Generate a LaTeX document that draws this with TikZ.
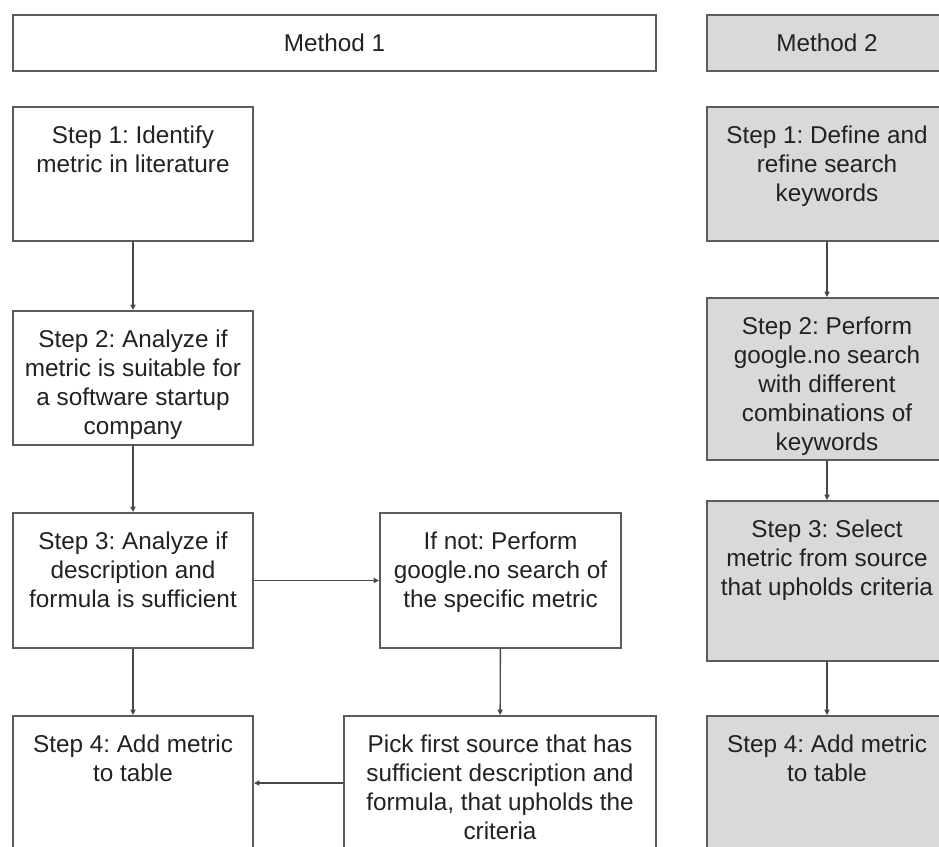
\documentclass[tikz,border=0pt]{standalone}
\usepackage{fontspec}
\setmainfont{Liberation Sans}
\usetikzlibrary{arrows.meta}

\definecolor{boxline}{HTML}{5C5C5C}
\definecolor{boxgray}{HTML}{D9D9D9}
\definecolor{flowline}{HTML}{484848}
\definecolor{boxtext}{HTML}{222222}

\frenchspacing

\begin{document}
\begin{tikzpicture}[x=1pt, y=-1pt,
    stepbox/.style={rectangle, draw=boxline, line width=1.8pt, fill=white,
      minimum width=240pt, inner sep=0pt, text=boxtext,
      font=\fontsize{24.3}{29}\selectfont},
    graybox/.style={stepbox, fill=boxgray},
    steptext/.style={anchor=north, inner sep=0pt, align=center, text=boxtext,
      font=\fontsize{24.3}{29}\selectfont},
    flow/.style={draw=flowline, line width=1.4pt,
      -{Triangle[length=5.5pt, width=5pt]}}
  ]

    % Page frame (reference proportions)
    \useasboundingbox (0,0) rectangle (939,846);
    \clip (0,0) rectangle (939,846);

    % --- Header boxes ---
    \node[stepbox, minimum width=643pt, minimum height=56pt] (m1) at (334.5,43) {Method 1};
    \node[graybox, minimum height=56pt] (m2) at (827,43) {Method 2};

    % --- Method 1: main column ---
    \node[stepbox, minimum height=134pt] (l1) at (133,174) {};
    \node[steptext] at ([yshift=-20pt]l1.north) {Step 1: Identify\\metric in literature};

    \node[stepbox, minimum height=134pt] (l2) at (133,378) {};
    \node[steptext] at ([yshift=-20pt]l2.north) {Step 2: Analyze if\\metric is suitable for\\a software startup\\company};

    \node[stepbox, minimum height=135pt] (l3) at (133,580.5) {};
    \node[steptext] at ([yshift=-20pt]l3.north) {Step 3: Analyze if\\description and\\formula is sufficient};

    \node[stepbox, minimum height=134pt] (l4) at (133,783) {};
    \node[steptext] at ([yshift=-20pt]l4.north) {Step 4: Add metric\\to table};

    % --- Method 1: side branch ---
    \node[stepbox, minimum width=241pt, minimum height=135pt] (ifnot) at (500.5,580.5) {};
    \node[steptext] at ([yshift=-20pt]ifnot.north) {If not: Perform\\google.no search of\\the specific metric};

    \node[stepbox, minimum width=312pt, minimum height=134pt] (pick) at (500,783) {};
    \node[steptext] at ([yshift=-20pt]pick.north) {Pick first source that has\\sufficient description and\\formula, that upholds the\\criteria};

    % --- Method 2 column (gray) ---
    \node[graybox, minimum height=134pt] (r1) at (827,174) {};
    \node[steptext] at ([yshift=-20pt]r1.north) {Step 1: Define and\\refine search\\keywords};

    \node[graybox, minimum height=162pt] (r2) at (827,379) {};
    \node[steptext] at ([yshift=-20pt]r2.north) {Step 2: Perform\\google.no search\\with different\\combinations of\\keywords};

    \node[graybox, minimum height=160pt] (r3) at (827,581) {};
    \node[steptext] at ([yshift=-20pt]r3.north) {Step 3: Select\\metric from source\\that upholds criteria};

    \node[graybox, minimum height=134pt] (r4) at (827,783) {};
    \node[steptext] at ([yshift=-20pt]r4.north) {Step 4: Add metric\\to table};

    % --- Connectors ---
    \draw[flow] (l1) -- (l2);
    \draw[flow] (l2) -- (l3);
    \draw[flow] (l3) -- (l4);
    \draw[flow] (l3) -- (ifnot);
    \draw[flow] (ifnot) -- (pick);
    \draw[flow] (pick) -- (l4);

    \draw[flow] (r1) -- (r2);
    \draw[flow] (r2) -- (r3);
    \draw[flow] (r3) -- (r4);

\end{tikzpicture}
\end{document}
